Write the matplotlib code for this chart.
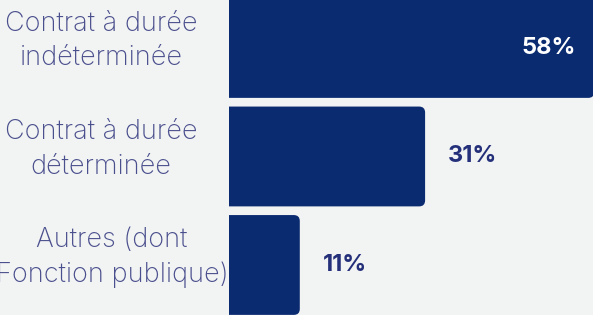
import matplotlib
matplotlib.use("Agg")
import matplotlib.pyplot as plt
import matplotlib.transforms as mtransforms
from matplotlib.patches import FancyBboxPatch

categories = ["Contrat à durée\nindéterminée",
              "Contrat à durée\ndéterminée",
              "Autres (dont\nFonction publique)"]
values = [58, 31, 11]
value_labels = ["58%", "31%", "11%"]

bg = "#f2f3f3"
bar_colour = "#0b2b70"
label_colour = "#4a4f8d"
value_colour = "#25307a"

plt.rcParams["font.family"] = ["Inter", "DejaVu Sans"]

fig = plt.figure(figsize=(5.93, 3.15), dpi=100, facecolor=bg)
ax = fig.add_axes([229 / 593, 0, 364 / 593, 1])
ax.set_facecolor(bg)

pos = list(range(len(values)))
bars = ax.barh(pos, values, height=0.92, color=bar_colour)
ax.set_xlim(0, 58.1)
ax.set_ylim(2.461, -0.442)

# swap plain bars for rounded ones (left side hidden behind axis edge)
px_x = 364 / 58.1
px_y = 315 / (2.461 + 0.442)
for b in bars:
    x0, y0, w, h = b.get_x(), b.get_y(), b.get_width(), b.get_height()
    r = 6 / px_x
    p = FancyBboxPatch((x0 - 2, y0), w + 2 + 0.3, h,
                       boxstyle=f"round,pad=0,rounding_size={r}",
                       mutation_aspect=px_x / px_y,
                       facecolor=bar_colour, edgecolor="none")
    ax.add_patch(p)
    b.remove()

for i, (v, s) in enumerate(zip(values, value_labels)):
    if v > 40:
        ax.text(v - 16 / px_x, i, s, ha="right", va="center", color="white",
                fontsize=17, fontweight="bold")
    else:
        ax.text(v + 25 / px_x, i, s, ha="left", va="center", color=value_colour,
                fontsize=17, fontweight="bold")

trans = mtransforms.blended_transform_factory(fig.transFigure, ax.transData)
label_x = [101, 101, 112]
for i, c in enumerate(categories):
    fig.text(label_x[i] / 593, i - 0.065, c, transform=trans, ha="center",
             va="center", multialignment="center", color=label_colour,
             fontsize=19.5, fontweight="light", linespacing=1.42)

ax.axis("off")
fig.savefig("out.png", dpi=100, facecolor=bg)
